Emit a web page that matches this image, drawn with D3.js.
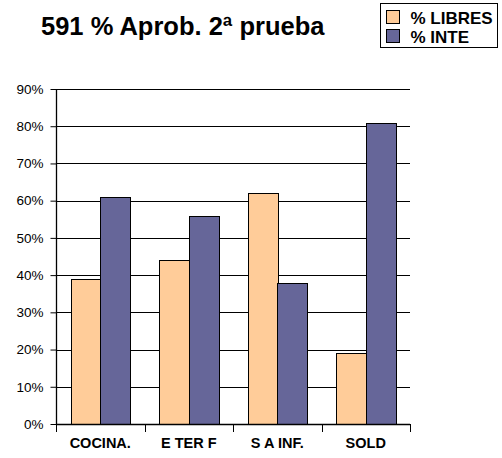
<!DOCTYPE html>
<html><head><meta charset="utf-8">
<script src="https://cdn.jsdelivr.net/npm/d3@7"></script>
<style>body{margin:0;background:#fff}svg{display:block}</style>
</head><body>
<script>
const categories = ["COCINA.", "E TER F", "S A INF.", "SOLD"];
const seriesNames = ["% LIBRES", "% INTE"];
const libres = [39, 44, 62, 19];
const inte = [61, 56, 38, 81];
const yTicks = [0, 10, 20, 30, 40, 50, 60, 70, 80, 90];
const colors = ["#FFCC99", "#666699"];

(function () {
const W = 502, H = 458;
const svg = d3.select("body").append("svg").attr("width", W).attr("height", H);
const font = "Arial, 'Liberation Sans', sans-serif";

const pL = 56, pR = 410, pT = 89, pB = 424;
const x = d3.scaleBand().domain(categories).range([pL, pR]).paddingInner(0).paddingOuter(0);
const y = d3.scaleLinear().domain([0, 90]).range([pB, pT]);
const inner = d3.scaleBand().domain([0, 1]).range([0, x.bandwidth()]).paddingInner(0).paddingOuter(0.5);

svg.append("g").selectAll("line").data(yTicks.filter(d => d > 0)).join("line")
  .attr("x1", pL).attr("x2", pR)
  .attr("y1", d => Math.round(y(d)) + 0.5).attr("y2", d => Math.round(y(d)) + 0.5)
  .attr("stroke", "#000").attr("stroke-width", 1);

const yAxis = d3.axisLeft(y).tickValues(yTicks).tickFormat(d => d + "%").tickSize(6).tickPadding(7);
const ya = svg.append("g").attr("transform", `translate(${pL + 0.5},0)`).call(yAxis);
ya.select(".domain").remove();
ya.selectAll("text").attr("font-family", font).attr("font-size", 13.5).attr("fill", "#000");

const g = svg.append("g");
categories.forEach((c, i) => {
  [libres[i], inte[i]].forEach((v, j) => {
    g.append("rect")
      .attr("x", Math.round(x(c) + inner(j)) + 0.5)
      .attr("y", Math.round(y(v)) + 0.5)
      .attr("width", Math.round(inner.bandwidth()))
      .attr("height", Math.round(y(0)) - Math.round(y(v)))
      .attr("fill", colors[j])
      .attr("stroke", "#000").attr("stroke-width", 1);
  });
});

svg.append("line").attr("x1", pL + 0.5).attr("x2", pL + 0.5).attr("y1", pT).attr("y2", pB + 1).attr("stroke", "#000").attr("stroke-width", 1.3);
svg.append("line").attr("x1", pL).attr("x2", pR).attr("y1", pB + 0.5).attr("y2", pB + 0.5).attr("stroke", "#000").attr("stroke-width", 1.3);

const xAxis = d3.axisBottom(x).tickSize(0).tickPadding(14);
const xa = svg.append("g").attr("transform", `translate(0,${pB})`).call(xAxis);
xa.select(".domain").remove();
xa.selectAll("text").attr("font-family", font).attr("font-size", 14.5).attr("font-weight", "bold").attr("fill", "#000");
const bounds = categories.map(c => x(c)).concat([pR]);
svg.append("g").selectAll("line").data(bounds).join("line")
  .attr("x1", d => Math.round(d) + 0.5).attr("x2", d => Math.round(d) + 0.5)
  .attr("y1", pB).attr("y2", pB + 8)
  .attr("stroke", "#000").attr("stroke-width", 1);

svg.append("text").attr("x", 41).attr("y", 35).text("591 % Aprob. 2ª prueba")
  .attr("font-family", font).attr("font-size", 25.5).attr("font-weight", "bold").attr("fill", "#000");

const lg = svg.append("g").attr("transform", "translate(380.5,3.5)");
lg.append("rect").attr("width", 117).attr("height", 44).attr("fill", "#fff").attr("stroke", "#000").attr("stroke-width", 1);
seriesNames.forEach((n, i) => {
  lg.append("rect").attr("x", 6).attr("y", 7 + i * 19).attr("width", 13).attr("height", 13)
    .attr("fill", colors[i]).attr("stroke", "#000").attr("stroke-width", 1);
  lg.append("text").attr("x", 30).attr("y", 20 + i * 19).text(n)
    .attr("font-family", font).attr("font-size", 17).attr("font-weight", "bold").attr("fill", "#000");
});
})();
</script>
</body></html>
